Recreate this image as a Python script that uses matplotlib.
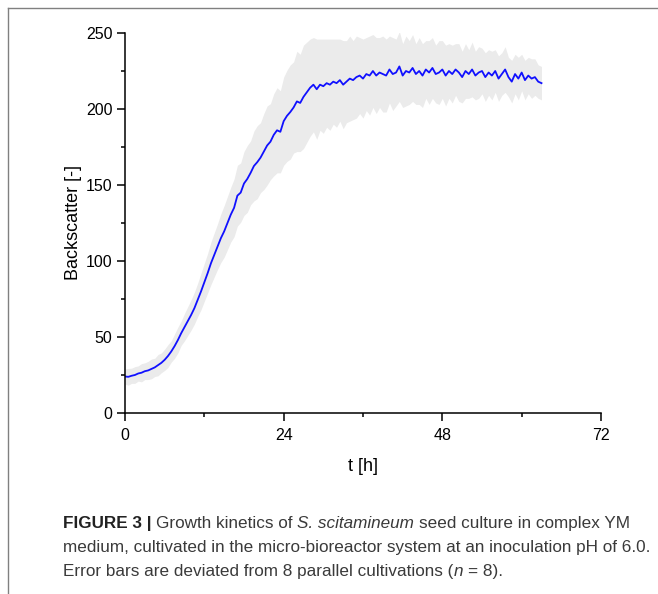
import matplotlib
matplotlib.use("Agg")
import numpy as np
import matplotlib.pyplot as plt
from matplotlib.lines import Line2D

plt.rcParams['font.family'] = ['Liberation Sans', 'DejaVu Sans']

# sampling times [h]
time_h = [
    0.0, 0.5, 1.0, 1.5, 2.0, 2.5, 3.0, 3.5, 4.0, 4.5, 5.0, 5.5, 6.0, 6.5, 7.0, 7.5,
    8.0, 8.5, 9.0, 9.5, 10.0, 10.5, 11.0, 11.5, 12.0, 12.5, 13.0, 13.5, 14.0, 14.5,
    15.0, 15.5, 16.0, 16.5, 17.0, 17.5, 18.0, 18.5, 19.0, 19.5, 20.0, 20.5, 21.0,
    21.5, 22.0, 22.5, 23.0, 23.5, 24.0, 24.5, 25.0, 25.5, 26.0, 26.5, 27.0, 27.5,
    28.0, 28.5, 29.0, 29.5, 30.0, 30.5, 31.0, 31.5, 32.0, 32.5, 33.0, 33.5, 34.0,
    34.5, 35.0, 35.5, 36.0, 36.5, 37.0, 37.5, 38.0, 38.5, 39.0, 39.5, 40.0, 40.5,
    41.0, 41.5, 42.0, 42.5, 43.0, 43.5, 44.0, 44.5, 45.0, 45.5, 46.0, 46.5, 47.0,
    47.5, 48.0, 48.5, 49.0, 49.5, 50.0, 50.5, 51.0, 51.5, 52.0, 52.5, 53.0, 53.5,
    54.0, 54.5, 55.0, 55.5, 56.0, 56.5, 57.0, 57.5, 58.0, 58.5, 59.0, 59.5, 60.0,
    60.5, 61.0, 61.5, 62.0, 62.5, 63.0,
]

# mean backscatter of the 8 cultivations
backscatter_mean = [
    24.0, 23.8, 24.5, 25.0, 26.0, 26.5, 27.5, 28.0, 29.0, 30.0, 31.5, 33.0, 35.0, 37.5, 40.5, 44.0,
    48.0, 52.5, 56.5, 60.5, 64.5, 69.0, 74.5, 80.0, 86.0, 92.0, 98.5, 104.0, 109.5, 115.0,
    119.5, 125.0, 130.5, 135.0, 143.0, 145.0, 151.0, 154.0, 158.0, 162.5, 165.0, 168.0, 172.0,
    176.0, 178.5, 183.0, 186.0, 185.0, 192.0, 195.5, 198.0, 201.0, 205.0, 204.0, 208.0, 211.0,
    214.0, 216.0, 213.0, 216.0, 215.0, 217.0, 216.0, 218.0, 217.0, 219.0, 216.0, 218.0, 220.0,
    219.0, 221.0, 222.0, 220.0, 223.0, 222.0, 225.0, 222.0, 224.0, 223.0, 222.0, 226.0, 223.0,
    224.0, 228.0, 222.0, 225.0, 224.0, 227.0, 223.0, 225.0, 222.0, 226.0, 224.0, 227.0, 223.0,
    224.0, 226.0, 222.0, 225.0, 223.0, 226.0, 224.0, 221.0, 225.0, 223.0, 226.0, 222.0, 224.0,
    225.0, 221.0, 224.0, 222.0, 225.0, 220.0, 223.0, 226.0, 221.0, 218.0, 223.0, 220.0, 224.0,
    219.0, 222.0, 220.0, 221.0, 218.0, 217.0,
]

# standard deviation (n = 8)
backscatter_sd = [
    5.0, 5.5, 5.0, 5.5, 5.0, 6.0, 5.5, 6.0, 6.5, 6.0, 7.0, 6.5, 7.0, 7.5, 7.0, 8.0,
    8.5, 8.0, 9.0, 9.5, 10.0, 10.5, 11.0, 12.0, 12.5, 13.0, 14.0, 14.5, 15.0, 16.0,
    17.0, 17.5, 18.0, 19.0, 20.0, 19.5, 21.0, 22.0, 21.0, 23.0, 24.0, 23.0, 25.0,
    26.0, 25.0, 27.0, 28.0, 27.0, 29.0, 30.0, 31.0, 30.0, 33.0, 32.0, 34.0, 33.0,
    32.0, 31.0, 33.0, 30.0, 31.0, 29.0, 30.0, 28.0, 29.0, 27.0, 29.0, 27.0, 28.0,
    26.0, 27.0, 25.0, 26.0, 24.0, 26.0, 24.0, 25.0, 23.0, 25.0, 24.0, 22.0, 24.0,
    22.0, 23.0, 21.0, 23.0, 21.0, 22.0, 20.0, 22.0, 21.0, 19.0, 21.0, 20.0, 19.0,
    21.0, 19.0, 20.0, 18.0, 19.0, 17.0, 19.0, 17.0, 18.0, 16.0, 18.0, 16.0, 17.0,
    15.0, 16.0, 15.0, 16.0, 14.0, 15.0, 14.0, 15.0, 13.0, 14.0, 13.0, 14.0, 12.0,
    13.0, 12.0, 13.0, 12.0, 11.0, 11.0,
]

x_ticks = [0, 24, 48, 72]
y_ticks = [0, 50, 100, 150, 200, 250]

W, H = 658, 594
fig = plt.figure(figsize=(W / 100, H / 100), dpi=100)
ax = fig.add_axes([125 / W, 1 - 413 / H, (601 - 125) / W, (413 - 33) / H])

t = np.array(time_h)
m = np.array(backscatter_mean)
sd = np.array(backscatter_sd)

ax.fill_between(t, m - sd, m + sd, color='#ebebeb', lw=0)
ax.plot(t, m, color='#1010ff', lw=1.3)

ax.set_xlim(0, 72)
ax.set_ylim(0, 250)
ax.set_xticks(x_ticks)
ax.set_yticks(y_ticks)
ax.set_xticks([12, 36, 60], minor=True)
ax.set_yticks([25, 75, 125, 175, 225], minor=True)

for side in ['top', 'right']:
    ax.spines[side].set_visible(False)
for side in ['left', 'bottom']:
    ax.spines[side].set_linewidth(1.1)

ax.tick_params(which='major', length=5.5, width=1.1, labelsize=11.5, color='black')
ax.tick_params(which='minor', length=3, width=1.1)
ax.tick_params(axis='x', which='major', pad=5)

ax.set_xlabel('t [h]', fontsize=13, labelpad=11)
ax.set_ylabel('Backscatter [-]', fontsize=13, labelpad=3)

# frame around the figure panel
fig.add_artist(Line2D([8 / W, 1], [1 - 8 / H, 1 - 8 / H], color='#808080', lw=1))
fig.add_artist(Line2D([8 / W, 8 / W], [0, 1 - 8 / H], color='#808080', lw=1))

# caption
renderer = fig.canvas.get_renderer()
cap_size = 12.3
space_px = 0.278 * cap_size * 100 / 72


def put_runs(x_px, y_px, runs):
    x = x_px
    for txt, style in runs:
        kw = dict(fontsize=cap_size, va='baseline', ha='left', color='#3a3a3a')
        if style == 'b':
            kw.update(fontweight='bold', color='#222222')
        elif style == 'i':
            kw.update(fontstyle='italic')
        if txt == ' ':
            x += space_px
            continue
        tx = fig.text(x / W, 1 - y_px / H, txt, **kw)
        x += tx.get_window_extent(renderer).width


put_runs(63, 528, [('FIGURE 3 |', 'b'), (' ', ''), ('Growth kinetics of', ''), (' ', ''),
                   ('S. scitamineum', 'i'), (' ', ''), ('seed culture in complex YM', '')])
put_runs(63, 552, [('medium, cultivated in the micro-bioreactor system at an inoculation pH of 6.0.', '')])
put_runs(63, 576, [('Error bars are deviated from 8 parallel cultivations (', ''), ('n', 'i'),
                   (' ', ''), ('= 8).', '')])

fig.savefig('out.png', dpi=100)
